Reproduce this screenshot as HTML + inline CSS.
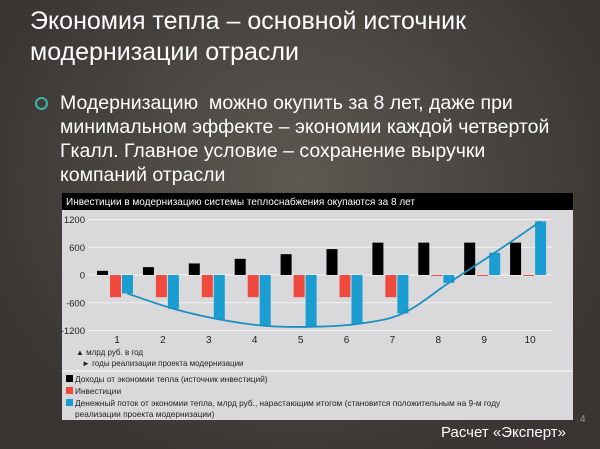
<!DOCTYPE html>
<html><head><meta charset="utf-8"><style>
body{margin:0;width:600px;height:449px;overflow:hidden;background:radial-gradient(ellipse at 50% 40%,#5e5853,#3a3532 80%);font-family:"Liberation Sans",sans-serif;position:relative}
.t{position:absolute;color:#fff}
</style></head><body>
<div class="t" style="left:30px;top:6px;font-size:25px;line-height:31px">Экономия тепла – основной источник<br>модернизации отрасли</div>
<div class="t" style="left:35px;top:97px;width:9px;height:9px;border:2px solid #3ab5a8;border-radius:50%"></div>
<div class="t" style="left:60px;top:91px;font-size:19.5px;line-height:24px">Модернизацию&nbsp; можно окупить за 8 лет, даже при<br>минимальном эффекте – экономии каждой четвертой<br>Гкалл. Главное условие – сохранение выручки<br>компаний отрасли</div>
<svg id="c" style="position:absolute;left:0;top:0" width="600" height="449"></svg>
<div class="t" style="left:441px;top:424px;font-size:15px">Расчет «Эксперт»</div>
<div class="t" style="left:580px;top:414px;font-size:10px;color:#999">4</div>
<script>
const categories=["1","2","3","4","5","6","7","8","9","10"];
const income=[90,170,250,350,450,560,700,700,700,700];
const invest=[-480,-480,-480,-480,-480,-480,-480,0,0,0];
const cashflow=[-400,-730,-960,-1100,-1120,-1060,-830,-170,480,1160];
const yTicks=[1200,600,0,-600,-1200];
const NS="http://www.w3.org/2000/svg";
const svg=document.getElementById('c');
function el(t,a,p){const e=document.createElementNS(NS,t);for(const k in a)e.setAttribute(k,a[k]);(p||svg).appendChild(e);return e;}
const y=v=>275-v*(111/2400);
const x=i=>117+i*45.9;
let r=el('rect',{x:62,y:193,width:511,height:227,fill:'#d9d9db'});

r=el('rect',{x:62,y:193,width:511,height:17,fill:'#000'});

let t=el('text',{x:66,y:205,'font-size':10,fill:'#fff'});t.textContent='Инвестиции в модернизацию системы теплоснабжения окупаются за 8 лет';

yTicks.forEach(v=>{
 let l=el('line',{x1:88,x2:552,y1:y(v),y2:y(v),stroke:'#f2f2f2','stroke-width':1});
 
 let tx=el('text',{x:85,y:y(v)+3.5,'font-size':9.5,fill:'#222','text-anchor':'end'});tx.textContent=v;
 
});
categories.forEach((c,i)=>{
 let b=el('rect',{x:x(i)-20,y:Math.min(y(income[i]),275),width:11,height:Math.abs(y(income[i])-275),fill:'#000'});
 
 b=el('rect',{x:x(i)-7,y:Math.min(y(invest[i]),275),width:11,height:Math.max(1,Math.abs(y(invest[i])-275)),fill:'#f04a3e'});
 
 b=el('rect',{x:x(i)+5,y:Math.min(y(cashflow[i]),275),width:11,height:Math.abs(y(cashflow[i])-275),fill:'#1a9dd0'});
 
 let tx=el('text',{x:x(i),y:343,'font-size':10,fill:'#222','text-anchor':'middle'});tx.textContent=c;
 
});
const pts=cashflow.map((v,i)=>[x(i)+10.5,y(v)]);
let d='M'+pts[0].join(',');
for(let i=0;i<pts.length-1;i++){const p0=pts[Math.max(0,i-1)],p1=pts[i],p2=pts[i+1],p3=pts[Math.min(pts.length-1,i+2)];
 d+=` C${p1[0]+(p2[0]-p0[0])/6},${p1[1]+(p2[1]-p0[1])/6} ${p2[0]-(p3[0]-p1[0])/6},${p2[1]-(p3[1]-p1[1])/6} ${p2[0]},${p2[1]}`;}
let p=el('path',{d:d,fill:'none',stroke:'#1a8fc0','stroke-width':1.8});

const notes=[[76,355,'▲ млрд руб. в год'],[82,366,'► годы реализации проекта модернизации']];
notes.forEach(n=>{let tx=el('text',{x:n[0],y:n[1],'font-size':8,fill:'#222'});tx.textContent=n[2];
 });
let l=el('line',{x1:62,x2:573,y1:371,y2:371,stroke:'#f2f2f2','stroke-width':1.5});

const leg=[[382,'#000','Доходы от экономии тепла (источник инвестиций)'],[394,'#f04a3e','Инвестиции'],[406,'#1a9dd0','Денежный поток от экономии тепла, млрд руб., нарастающим итогом (становится положительным на 9-м году']];
leg.forEach(g=>{let s=el('rect',{x:66,y:g[0]-7,width:7,height:7,fill:g[1]});
 let tx=el('text',{x:75,y:g[0],'font-size':8.3,fill:'#222'});tx.textContent=g[2];});
t=el('text',{x:75,y:417,'font-size':8.3,fill:'#222'});t.textContent='реализации проекта модернизации)';

</script>
</body></html>
